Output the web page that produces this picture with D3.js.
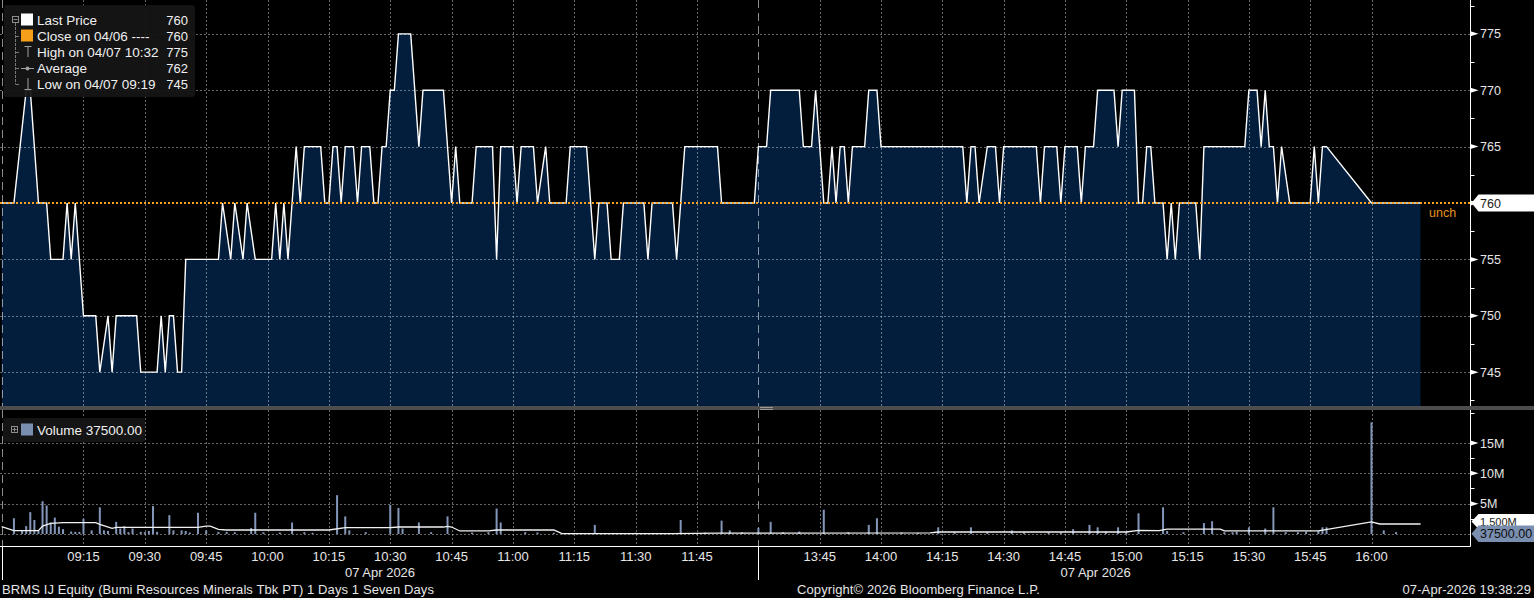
<!DOCTYPE html>
<html><head><meta charset="utf-8">
<script src="https://cdn.jsdelivr.net/npm/d3@7"></script>
<style>html,body{margin:0;padding:0;background:#000;overflow:hidden}svg{display:block}</style>
</head><body><svg id="c" width="1534" height="598"></svg>
<script>
// ---------------- DATA ----------------
const priceTimes = ["08:55","08:58","09:01","09:02","09:04","09:06","09:07","09:10","09:11","09:12","09:13","09:15","09:18","09:19","09:21","09:22","09:23","09:28","09:29","09:33","09:34","09:35","09:36","09:37","09:38","09:39","09:40","09:48","09:49","09:51","09:52","09:54","09:55","09:57","10:01","10:02","10:03","10:04","10:05","10:06","10:07","10:08","10:09","10:13","10:14","10:15","10:16","10:17","10:18","10:19","10:21","10:22","10:23","10:25","10:26","10:27","10:28","10:29","10:30","10:31","10:32","10:35","10:37","10:38","10:43","10:45","10:46","10:47","10:50","10:51","10:55","10:56","10:57","11:00","11:01","11:02","11:05","11:06","11:08","11:09","11:13","11:14","11:18","11:20","11:21","11:23","11:24","11:26","11:27","11:32","11:33","11:34","11:39","11:40","11:41","11:42","11:50","11:51","11:59","12:00",
"13:32","13:33","13:40","13:41","13:43","13:44","13:46","13:47","13:48","13:49","13:50","13:51","13:52","13:53","13:56","13:57","13:59","14:00","14:20","14:21","14:22","14:23","14:24","14:26","14:28","14:29","14:30","14:38","14:39","14:40","14:43","14:44","14:45","14:48","14:49","14:50","14:52","14:53","14:57","14:58","14:59","15:02","15:03","15:04","15:05","15:06","15:07","15:09","15:10","15:11","15:12","15:13","15:17","15:18","15:19","15:29","15:30","15:32","15:33","15:34","15:35","15:36","15:37","15:38","15:40","15:45","15:46","15:47","15:48","15:49","16:00","16:12"];
const priceValues = [760,760,770,770,760,760,755,755,760,755,760,750,750,745,750,745,750,750,745,745,750,745,750,750,745,745,755,755,760,755,760,755,760,755,755,760,755,760,755,760,765,760,765,765,760,760,765,765,760,765,765,760,765,765,760,760,765,765,770,770,775,775,765,770,770,760,765,760,760,765,765,755,765,765,760,765,765,760,765,760,760,765,765,755,760,760,755,755,760,760,755,760,760,755,760,765,765,760,760,765,
765,770,770,765,765,770,760,760,765,760,765,765,760,765,765,770,770,765,765,760,765,765,760,765,765,760,765,765,760,765,765,760,765,765,760,765,765,770,770,765,770,770,760,760,765,765,760,760,755,760,755,760,760,755,765,765,770,770,765,770,765,765,760,765,760,760,765,760,765,765,760,760];

const volumeTimes = ["08:58","09:00","09:01","09:02","09:03","09:04","09:05","09:06","09:07","09:08","09:09","09:10","09:12","09:13","09:14","09:15","09:17","09:19","09:20","09:21","09:23","09:24","09:25","09:26","09:27","09:29","09:30","09:31","09:32","09:33","09:36","09:37","09:39","09:40","09:41","09:43","09:45","09:48","09:50","09:52","09:56","09:57","09:59","10:03","10:06","10:09","10:11","10:17","10:19","10:20","10:24","10:30","10:32","10:33","10:37","10:40","10:44","10:50","10:54","10:56","10:57","11:03","11:06","11:10","11:20","11:30","11:41","11:47","11:51","11:53","11:56","12:00",
"13:33","13:36","13:40","13:46","13:52","13:57","13:59","14:05","14:09","14:14","14:18","14:22","14:26","14:32","14:35","14:41","14:44","14:47","14:51","14:53","14:55","14:58","15:00","15:03","15:09","15:10","15:14","15:19","15:21","15:24","15:26","15:27","15:30","15:34","15:36","15:39","15:42","15:44","15:47","15:48","15:49","16:00","16:03","16:06"];
const volumeValues = [2.6,0.66,1.3,3.6,2.3,0.5,5.4,4.7,1.9,2.7,1.2,0.8,0.4,0.35,0.35,2.5,0.6,4.4,0.6,0.5,2.0,0.9,1.3,0.3,0.9,0.35,0.3,0.5,4.6,0.35,3.1,0.6,0.6,0.5,0.25,3.5,0.6,0.35,0.35,0.3,1.0,3.5,0.3,0.25,1.9,0.3,0.2,6.4,2.9,0.6,0.3,4.8,4.3,0.9,1.9,0.3,2.9,0.25,0.3,4.2,1.9,0.3,0.25,0.2,1.5,0.2,2.3,0.25,2.2,0.6,0.3,1.0,
2.0,0.3,0.4,4.0,0.3,1.5,2.6,0.25,0.2,1.1,0.3,1.1,0.3,0.6,0.25,0.3,0.25,0.8,1.5,1.1,0.4,1.1,0.3,3.4,4.4,0.5,0.3,1.8,2.1,0.3,0.3,0.4,1.1,0.9,4.4,0.3,0.3,0.4,0.5,1.1,1.1,18.4,0.6,0.3]; // millions

const avgVolTimes = ["08:55","08:58","09:04","09:05","09:07","09:10","09:18","09:19","09:22","09:23","09:43","09:45","09:46","09:48","09:50","10:15","10:19","10:30","10:32","10:43","10:44","10:45","10:47","10:54","10:56","11:10","11:12","11:39","11:50","12:00","13:30","14:12","14:14","15:00","15:03","15:08","15:10","15:23","15:24","15:47","16:00","16:02","16:12"];
const avgVolValues = [1.2,0.55,0.55,1.3,1.75,1.87,1.87,1.6,0.93,1.1,1.1,1.3,1.3,0.77,0.66,0.66,1.04,1.04,1.15,1.15,1.25,1.15,0.5,0.5,0.66,0.66,0.05,0.05,0.15,0.15,0.15,0.2,0.33,0.33,0.6,0.55,0.8,0.8,0.5,0.5,2.0,1.65,1.65];

const priceTicks = [745,750,755,760,765,770,775];
const priceMinorTicks = [742.5,747.5,752.5,757.5,762.5,767.5,772.5,777.5];
const volumeTicks = [5,10,15];
const volumeTickLabels = ["5M","10M","15M"];
const volumeMinorTicks = [2.5,7.5,12.5,20];
const timeTicks = ["09:15","09:30","09:45","10:00","10:15","10:30","10:45","11:00","11:15","11:30","11:45","13:45","14:00","14:15","14:30","14:45","15:00","15:15","15:30","15:45","16:00"];
const sessionBreaks = ["08:55","12:00"];
const sessions = [["08:55","12:00"],["13:30","16:15"]];
const dateLabel = "07 Apr 2026";
const prevClose = 760;
const lastPrice = 760;
const lastVolume = 0.0375; // millions
const lastVolumeLabel = "37500.00";
const avgVolumeLabel = "1.500M";
const legendLabels = ["Last Price","Close on 04/06 ----","High on 04/07 10:32","Average","Low on 04/07 09:19"];
const legendValues = ["760","760","775","762","745"];
const footerLeft = "BRMS IJ Equity (Bumi Resources Minerals Tbk PT) 1 Days 1 Seven Days";
const footerMid = "Copyright\u00A9 2026 Bloomberg Finance L.P.";
const footerRight = "07-Apr-2026 19:38:29";

// ---------------- LAYOUT ----------------
const W = 1534, H = 598;
const axisX = 1470.5;
const priceTop = 0, priceBottom = 406;
const volTop = 410, volBottom = 546;
const FONT = "'Liberation Sans', Arial, sans-serif";
const toMin = t => { const [h, m] = t.split(":").map(Number); return h * 60 + m; };

const x = d3.scaleLinear().domain([540, 720, 810, 960]).range([22.1, 758.4, 758.4, 1371.5]);
const yP = d3.scaleLinear().domain([742, 778]).range([priceBottom, priceTop]);
const yV = d3.scaleLinear().domain([0, 20]).range([534, 412.6]);

const svg = d3.select("#c");
svg.append("rect").attr("width", W).attr("height", H).attr("fill", "#000");

const defs = svg.append("defs");
defs.append("clipPath").attr("id", "cp").append("rect").attr("x", 0).attr("y", priceTop).attr("width", axisX).attr("height", priceBottom - priceTop);
defs.append("clipPath").attr("id", "cv").append("rect").attr("x", 0).attr("y", volTop).attr("width", axisX).attr("height", volBottom - volTop);

const priceData = priceTimes.map((t, i) => ({ t: toMin(t), v: priceValues[i] }));
const volData = volumeTimes.map((t, i) => ({ t: toMin(t), v: volumeValues[i] }));
const avgData = avgVolTimes.map((t, i) => ({ t: toMin(t), v: avgVolValues[i] }));

const gridColor = "rgba(255,255,255,0.4)";

// ---------- price panel ----------
const gp = svg.append("g").attr("clip-path", "url(#cp)");
gp.append("path").datum(priceData)
  .attr("fill", "#031d3c")
  .attr("d", d3.area().x(d => x(d.t)).y0(priceBottom).y1(d => yP(d.v)));
gp.selectAll(".hg").data(priceTicks).join("line")
  .attr("x1", 0).attr("x2", axisX).attr("y1", d => Math.round(yP(d)) + 0.5).attr("y2", d => Math.round(yP(d)) + 0.5)
  .attr("stroke", gridColor).attr("stroke-dasharray", "2,2");
gp.selectAll(".vg").data(timeTicks).join("line")
  .attr("x1", d => Math.round(x(toMin(d))) + 0.5).attr("x2", d => Math.round(x(toMin(d))) + 0.5)
  .attr("y1", priceTop).attr("y2", priceBottom)
  .attr("stroke", gridColor).attr("stroke-dasharray", "2,2");
gp.selectAll(".sb").data(sessionBreaks).join("line")
  .attr("x1", d => Math.round(x(toMin(d))) + 0.5).attr("x2", d => Math.round(x(toMin(d))) + 0.5)
  .attr("y1", priceTop).attr("y2", priceBottom)
  .attr("stroke", "rgba(255,255,255,0.55)").attr("stroke-dasharray", "8,5");
gp.append("path").datum(priceData)
  .attr("fill", "none").attr("stroke", "#fff").attr("stroke-width", 1.4).attr("stroke-linejoin", "miter")
  .attr("d", d3.line().x(d => x(d.t)).y(d => yP(d.v)));
gp.append("line").attr("x1", 0).attr("x2", axisX).attr("y1", yP(prevClose)).attr("y2", yP(prevClose))
  .attr("stroke", "#f5a01e").attr("stroke-width", 2).attr("stroke-dasharray", "2,2");

svg.append("text").attr("x", 1429).attr("y", yP(prevClose) + 14).attr("fill", "#e8901e")
  .attr("font-family", FONT).attr("font-size", 12.5).text("unch");

// ---------- volume panel ----------
const gv = svg.append("g").attr("clip-path", "url(#cv)");
gv.selectAll(".vhg").data([0].concat(volumeTicks)).join("line")
  .attr("x1", 0).attr("x2", axisX).attr("y1", d => Math.round(yV(d)) + 0.5).attr("y2", d => Math.round(yV(d)) + 0.5)
  .attr("stroke", gridColor).attr("stroke-dasharray", "2,2");
gv.selectAll(".vvg").data(timeTicks).join("line")
  .attr("x1", d => Math.round(x(toMin(d))) + 0.5).attr("x2", d => Math.round(x(toMin(d))) + 0.5)
  .attr("y1", volTop).attr("y2", volBottom)
  .attr("stroke", gridColor).attr("stroke-dasharray", "2,2");
gv.selectAll(".vsb").data(sessionBreaks).join("line")
  .attr("x1", d => Math.round(x(toMin(d))) + 0.5).attr("x2", d => Math.round(x(toMin(d))) + 0.5)
  .attr("y1", volTop).attr("y2", volBottom)
  .attr("stroke", "rgba(255,255,255,0.55)").attr("stroke-dasharray", "8,5");
gv.selectAll(".bar").data(volData).join("rect")
  .attr("x", d => x(d.t) - 1).attr("width", 2)
  .attr("y", d => yV(d.v)).attr("height", d => yV(0) - yV(d.v))
  .attr("fill", "#8396b8");
gv.append("path").datum(avgData)
  .attr("fill", "none").attr("stroke", "#f2f2f2").attr("stroke-width", 1.3)
  .attr("d", d3.line().x(d => x(d.t)).y(d => yV(d.v)));

// ---------- separators & axes ----------
svg.append("rect").attr("x", 0).attr("y", 406).attr("width", W).attr("height", 4).attr("fill", "#4d4d4d");
svg.append("g").selectAll("line").data([0, 1]).join("line")
  .attr("x1", 760).attr("x2", 773).attr("y1", d => 407 + d * 2 + 0.5).attr("y2", d => 407 + d * 2 + 0.5)
  .attr("stroke", "#9a9a9a").attr("stroke-width", 1);

svg.append("line").attr("x1", axisX).attr("x2", axisX).attr("y1", priceTop).attr("y2", priceBottom).attr("stroke", "#fff");
svg.append("line").attr("x1", axisX).attr("x2", axisX).attr("y1", volTop).attr("y2", volBottom + 0.5).attr("stroke", "#fff");
svg.append("line").attr("x1", 0).attr("x2", axisX).attr("y1", volBottom + 0.5).attr("y2", volBottom + 0.5).attr("stroke", "#fff");

function majorTick(g, yy) {
  g.append("path").attr("d", `M${axisX},${yy - 2.5}L${axisX + 8},${yy}L${axisX},${yy + 2.5}Z`).attr("fill", "#fff");
}
function flag(g, yy, half, fill) {
  g.append("path").attr("d", `M${axisX + 1},${yy}L${axisX + 8},${yy - half}L${W},${yy - half}L${W},${yy + half}L${axisX + 8},${yy + half}Z`).attr("fill", fill);
}
// price axis
const gpa = svg.append("g");
priceTicks.forEach(p => {
  const yy = yP(p);
  majorTick(gpa, yy);
  if (p !== lastPrice) {
    gpa.append("text").attr("x", 1480).attr("y", yy + 4.6).attr("fill", "#e6e6e6")
      .attr("font-family", FONT).attr("font-size", 12.5).text(p);
  }
});
gpa.selectAll(".mt").data(priceMinorTicks).join("line")
  .attr("x1", axisX).attr("x2", axisX + 4).attr("y1", d => Math.round(yP(d)) + 0.5).attr("y2", d => Math.round(yP(d)) + 0.5)
  .attr("stroke", "#fff");
const yl = yP(lastPrice);
flag(gpa, yl, 8.5, "#fff");
gpa.append("text").attr("x", 1480).attr("y", yl + 4.6).attr("fill", "#1a1a1a")
  .attr("font-family", FONT).attr("font-size", 12.5).text(lastPrice);

// volume axis
const gva = svg.append("g");
volumeTicks.forEach((v, i) => {
  const yy = yV(v);
  majorTick(gva, yy);
  gva.append("text").attr("x", 1480).attr("y", yy + 4.6).attr("fill", "#e6e6e6")
    .attr("font-family", FONT).attr("font-size", 12.5).text(volumeTickLabels[i]);
});
gva.selectAll(".vmt").data(volumeMinorTicks).join("line")
  .attr("x1", axisX).attr("x2", axisX + 4).attr("y1", d => Math.round(yV(d)) + 0.5).attr("y2", d => Math.round(yV(d)) + 0.5)
  .attr("stroke", "#fff");
const ya = yV(avgVolValues[avgVolValues.length - 1]) - 2.5;
flag(gva, ya, 7.5, "#fff");
gva.append("text").attr("x", 1480).attr("y", ya + 4.2).attr("fill", "#1a1a1a")
  .attr("font-family", FONT).attr("font-size", 11).text(avgVolumeLabel);
const yb = yV(lastVolume);
flag(gva, yb, 8.2, "#7a8fb0");
gva.append("text").attr("x", 1480).attr("y", yb + 4.6).attr("fill", "#0d0d0d")
  .attr("font-family", FONT).attr("font-size", 12.5).text(lastVolumeLabel);

// x axis labels
const gx = svg.append("g");
gx.selectAll("text").data(timeTicks).join("text")
  .attr("x", d => x(toMin(d))).attr("y", 561).attr("text-anchor", "middle")
  .attr("fill", "#e6e6e6").attr("font-family", FONT).attr("font-size", 13).text(d => d);
sessionBreaks.forEach(s => {
  const xx = Math.round(x(toMin(s))) + 0.5;
  gx.append("line").attr("x1", xx).attr("x2", xx).attr("y1", volBottom).attr("y2", 580).attr("stroke", "#fff");
});
sessions.forEach(([a, b]) => {
  gx.append("text").attr("x", (x(toMin(a)) + x(toMin(b))) / 2).attr("y", 577).attr("text-anchor", "middle")
    .attr("fill", "#e6e6e6").attr("font-family", FONT).attr("font-size", 13).text(dateLabel);
});

// footer
const gf = svg.append("g").attr("font-family", FONT).attr("font-size", 13).attr("fill", "#e6e6e6").attr("letter-spacing", 0.1);
gf.append("text").attr("x", 2).attr("y", 594).text(footerLeft);
gf.append("text").attr("x", 797).attr("y", 594).text(footerMid);
gf.append("text").attr("x", 1531).attr("y", 594).attr("text-anchor", "end").text(footerRight);

// ---------- price legend ----------
const lg = svg.append("g");
lg.append("rect").attr("x", 4).attr("y", 5).attr("width", 191).attr("height", 92).attr("rx", 3).attr("fill", "rgba(22,22,22,0.93)");
const rowY = i => 20 + i * 16;
lg.append("rect").attr("x", 12.5).attr("y", 16.5).attr("width", 6).attr("height", 6).attr("fill", "none").attr("stroke", "#8c8c8c");
lg.append("line").attr("x1", 13.5).attr("x2", 17.5).attr("y1", 19.5).attr("y2", 19.5).attr("stroke", "#8c8c8c");
lg.append("line").attr("x1", 15.5).attr("x2", 15.5).attr("y1", 23).attr("y2", rowY(4)).attr("stroke", "#777").attr("stroke-dasharray", "3,1");
[1, 2, 3, 4].forEach(i => lg.append("line").attr("x1", 15.5).attr("x2", 19).attr("y1", rowY(i) + 0.5).attr("y2", rowY(i) + 0.5).attr("stroke", "#777"));
lg.append("rect").attr("x", 21).attr("y", rowY(0) - 6.5).attr("width", 12).attr("height", 12).attr("fill", "#fff");
lg.append("rect").attr("x", 21).attr("y", rowY(1) - 6.5).attr("width", 12).attr("height", 12).attr("fill", "#f59f1a");
lg.append("path").attr("d", `M24.5,${rowY(2) - 5.5}H31.5M28,${rowY(2) - 5.5}V${rowY(2) + 5}`).attr("stroke", "#a0a0a0").attr("fill", "none");
lg.append("line").attr("x1", 21).attr("x2", 34).attr("y1", rowY(3) + 0.5).attr("y2", rowY(3) + 0.5).attr("stroke", "#a0a0a0");
lg.append("circle").attr("cx", 27.5).attr("cy", rowY(3) + 0.5).attr("r", 2).attr("fill", "#a0a0a0");
lg.append("path").attr("d", `M28,${rowY(4) - 6}V${rowY(4) + 5.5}M24.5,${rowY(4) + 5.5}H31.5`).attr("stroke", "#a0a0a0").attr("fill", "none");
legendLabels.forEach((l, i) => {
  lg.append("text").attr("x", 37).attr("y", rowY(i) + 5).attr("fill", "#f0f0f0")
    .attr("font-family", FONT).attr("font-size", 13.5).text(l);
  lg.append("text").attr("x", 188).attr("y", rowY(i) + 5).attr("text-anchor", "end").attr("fill", "#f0f0f0")
    .attr("font-family", FONT).attr("font-size", 13).text(legendValues[i]);
});

// ---------- volume legend ----------
const vl = svg.append("g");
vl.append("rect").attr("x", 3).attr("y", 418).attr("width", 142).attr("height", 24).attr("rx", 3).attr("fill", "rgba(22,22,22,0.93)");
vl.append("rect").attr("x", 11.5).attr("y", 426.5).attr("width", 6).attr("height", 6).attr("fill", "none").attr("stroke", "#8c8c8c");
vl.append("path").attr("d", "M12.5,429.5H16.5M14.5,427.5V431.5").attr("stroke", "#8c8c8c");
vl.append("rect").attr("x", 21).attr("y", 423.5).attr("width", 12).attr("height", 12).attr("fill", "#7a8fb0");
vl.append("text").attr("x", 37).attr("y", 435).attr("fill", "#f0f0f0").attr("font-family", FONT).attr("font-size", 13.5)
  .text("Volume " + lastVolumeLabel);
</script>
</body></html>
